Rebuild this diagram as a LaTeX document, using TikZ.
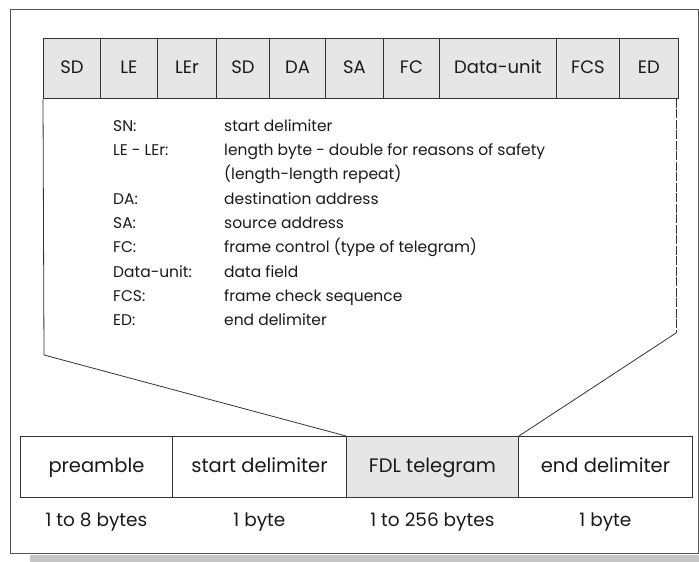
\documentclass[tikz,border=0pt]{standalone}
\usepackage{fontspec}
\setmainfont{Poppins}
\definecolor{fieldgray}{HTML}{E6E6E6}
\definecolor{linegray}{HTML}{333333}
\definecolor{framegray}{HTML}{555555}
\definecolor{shadowgray}{HTML}{C6C6C6}
\definecolor{inkc}{HTML}{1A1A1A}
\tikzset{
  field/.style={draw=linegray, line width=0.9pt, fill=fieldgray, anchor=north west,
    inner sep=0pt, minimum height=60pt, text height=0.95em, text depth=0pt,
    text=inkc, font=\fontsize{18}{18}\selectfont},
  part/.style={draw=linegray, line width=0.9pt, fill=white, anchor=north west,
    inner sep=0pt, minimum height=61pt, text height=1.05em, text depth=0pt,
    text=inkc, font=\fontsize{19.5}{19.5}\selectfont},
  key/.style={anchor=base west, inner sep=0pt, text=inkc, font=\fontsize{15.5}{15.5}\selectfont},
  size/.style={anchor=base, inner sep=0pt, text=inkc, font=\fontsize{18.5}{18.5}\selectfont},
  link/.style={draw=linegray, line width=0.8pt},
}
\begin{document}
\begin{tikzpicture}[x=1pt,y=-1pt]
\useasboundingbox (0,0) rectangle (699,562);
% shadow and outer frame
\fill[shadowgray] (30,555) rectangle (699,562);
\draw[framegray, line width=1pt] (10,9) rectangle (698,553);

% telegram fields
\node[field, minimum width=57pt] (sd1) at (43,38) {SD};
\node[field, minimum width=57pt] (le) at (100,38) {LE};
\node[field, minimum width=59pt] (ler) at (157,38) {LEr};
\node[field, minimum width=53pt] (sd2) at (216,38) {SD};
\node[field, minimum width=56pt] (da) at (269,38) {DA};
\node[field, minimum width=58pt] (sa) at (325,38) {SA};
\node[field, minimum width=56pt] (fc) at (383,38) {FC};
\node[field, minimum width=117pt] (du) at (439,38) {Data-unit};
\node[field, minimum width=63pt] (fcs) at (556,38) {FCS};
\node[field, minimum width=59pt] (ed) at (619,38) {ED};

% legend
\foreach \k/\t/\yy in {SN:/start delimiter/131,
  LE - LEr:/length byte - double for reasons of safety/155,
  /(length-length repeat)/179,
  DA:/destination address/204,
  SA:/source address/228,
  FC:/frame control (type of telegram)/252,
  Data-unit:/data field/277,
  FCS:/frame check sequence/301,
  ED:/end delimiter/325}{
  \node[key] (k\yy) at (113,\yy) {\k};
  \node[key] (t\yy) at (224,\yy) {\t};
}

% frame parts
\node[part, minimum width=152pt] (pre) at (20,436) {preamble};
\node[part, minimum width=174pt] (sdl) at (172,436) {start delimiter};
\node[part, minimum width=172pt, fill=fieldgray] (fdl) at (346,436) {FDL telegram};
\node[part, minimum width=174pt] (edl) at (518,436) {end delimiter};

\node[size] (s1) at (pre.south |- 0,526) {1 to 8 bytes};
\node[size] (s2) at (sdl.south |- 0,526) {1 byte};
\node[size] (s3) at (fdl.south |- 0,526) {1 to 256 bytes};
\node[size] (s4) at (edl.south |- 0,526) {1 byte};

% expansion outline
\coordinate (lc) at (44,355);
\coordinate (rc) at (676,333);
\draw[link] (sd1.south west) -- (lc) -- (fdl.north west);
\draw[link, dash pattern=on 9pt off 1.5pt] (ed.south east -| rc) -- (rc);
\draw[link] (rc) -- (fdl.north east);
\end{tikzpicture}
\end{document}
